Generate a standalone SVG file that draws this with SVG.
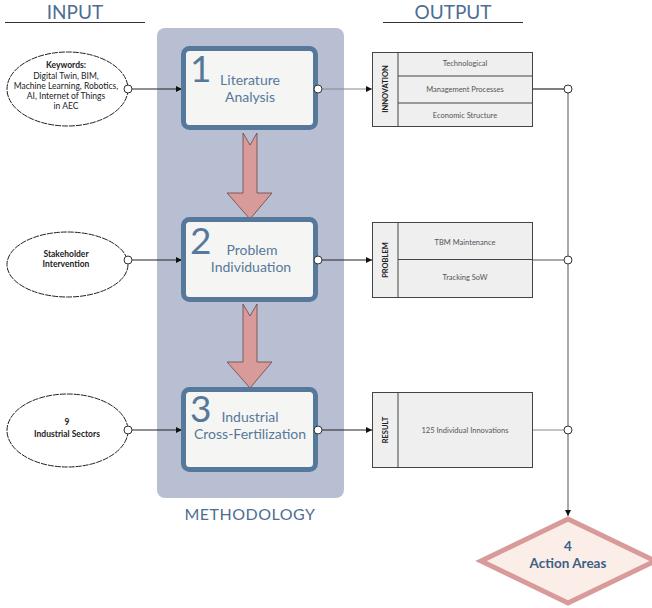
<svg xmlns="http://www.w3.org/2000/svg" width="652" height="608" viewBox="0 0 652 608">
<style>
.title{font-family:Lato,"Open Sans",sans-serif;font-size:19px;fill:#4d6e92;text-anchor:middle}
.step{fill:#f5f5f3;stroke:#56799b;stroke-width:5}
.num{font-family:Lato,"Open Sans",sans-serif;font-size:37px;fill:#56799b}
.stxt{font-family:Lato,"Open Sans",sans-serif;font-size:14px;fill:#56799b;text-anchor:middle}
.ell{fill:#fff;stroke:#222;stroke-width:1;stroke-dasharray:6 1}
.etxt{font-family:Lato,"Open Sans",sans-serif;font-size:8.5px;fill:#222;text-anchor:middle}
.b{font-weight:bold}
.dot{fill:#fff;stroke:#333;stroke-width:1}
.tbl{fill:#efefef;stroke:#444;stroke-width:1}
.ttxt{font-family:Lato,"Open Sans",sans-serif;font-size:7.5px;fill:#555;text-anchor:middle}
.vlab{font-family:Lato,"Open Sans",sans-serif;font-size:7.5px;font-weight:bold;fill:#222;text-anchor:middle}
.conn{stroke:#222;stroke-width:1;fill:none}
.big{fill:#d99a9a;stroke:#6a4444;stroke-width:0.8}
</style>
<defs>
<marker id="ah" viewBox="0 0 10 10" refX="10" refY="5" markerWidth="6" markerHeight="6" orient="auto" markerUnits="userSpaceOnUse"><path d="M0,0L10,5L0,10z" fill="#111"/></marker>
</defs>
<g id="headers">
<text class="title" x="75" y="19">INPUT</text>
<line x1="5" y1="22.5" x2="145" y2="22.5" stroke="#333" stroke-width="1.2"/>
<text class="title" x="453" y="19">OUTPUT</text>
<line x1="383" y1="22.5" x2="523" y2="22.5" stroke="#333" stroke-width="1.2"/>
</g>
<g id="methodology">
<rect x="157" y="28" width="187" height="470" rx="8" fill="#b9bfd3"/>
<text x="250" y="520" style="font-family:Lato,'Open Sans',sans-serif;font-size:16px;fill:#4d6e92;text-anchor:middle;letter-spacing:0.5px">METHODOLOGY</text>
</g>
<g id="connectors">
<line class="conn" x1="132" y1="89" x2="182" y2="89" marker-end="url(#ah)"/>
<line class="conn" x1="132" y1="260" x2="182" y2="260" marker-end="url(#ah)"/>
<line class="conn" x1="132" y1="430" x2="182" y2="430" marker-end="url(#ah)"/>
<line x1="322" y1="89" x2="372" y2="89" stroke="#888" stroke-width="1" marker-end="url(#ah)"/>
<line class="conn" x1="322" y1="260" x2="372" y2="260" marker-end="url(#ah)"/>
<line class="conn" x1="322" y1="430" x2="372" y2="430" marker-end="url(#ah)"/>
<line x1="533" y1="89" x2="564" y2="89" stroke="#555" stroke-width="1.5"/>
<line x1="533" y1="260" x2="564" y2="260" stroke="#555" stroke-width="1"/>
<line x1="533" y1="430" x2="564" y2="430" stroke="#888" stroke-width="1"/>
<line x1="568" y1="93" x2="568" y2="516" stroke="#555" stroke-width="1" marker-end="url(#ah)"/>
<path class="big" d="M243,133 L250,145 L257,133 L257,193 L272,193 L250,219 L227,193 L243,193 Z"/>
<path class="big" d="M243,304 L250,316 L257,304 L257,362 L272,362 L250,388 L227,362 L243,362 Z"/>
</g>
<g id="in1">
<ellipse class="ell" cx="67.5" cy="89" rx="60.5" ry="37"/>
<text class="etxt b" x="66" y="68">Keywords:</text>
<text class="etxt" x="66" y="79">Digital Twin, BIM,</text>
<text class="etxt" x="66" y="89">Machine Learning, Robotics,</text>
<text class="etxt" x="66" y="99">AI, Internet of Things</text>
<text class="etxt" x="66" y="109">in AEC</text>
<circle class="dot" cx="128" cy="89" r="4"/>
</g>
<g id="in2">
<ellipse class="ell" cx="67.5" cy="264.5" rx="60.5" ry="32.5"/>
<text class="etxt b" x="66" y="257">Stakeholder</text>
<text class="etxt b" x="66" y="267">Intervention</text>
<circle class="dot" cx="128" cy="260" r="4"/>
</g>
<g id="in3">
<ellipse class="ell" cx="67.5" cy="430.5" rx="60.5" ry="36.5"/>
<text class="etxt b" x="67" y="425">9</text>
<text class="etxt b" x="67" y="437">Industrial Sectors</text>
<circle class="dot" cx="128" cy="430" r="4"/>
</g>
<g id="step1">
<rect class="step" x="183.5" y="48.5" width="132" height="79" rx="6"/>
<text class="num" x="190" y="82">1</text>
<text class="stxt" x="250" y="85">Literature</text>
<text class="stxt" x="250" y="102">Analysis</text>
<circle class="dot" cx="318" cy="89" r="4"/>
</g>
<g id="step2">
<rect class="step" x="183.5" y="219.5" width="132" height="80" rx="6"/>
<text class="num" x="190" y="254">2</text>
<text class="stxt" x="252" y="255">Problem</text>
<text class="stxt" x="251" y="272">Individuation</text>
<circle class="dot" cx="318" cy="260" r="4"/>
</g>
<g id="step3">
<rect class="step" x="183.5" y="389.5" width="132" height="80" rx="6"/>
<text class="num" x="190" y="422">3</text>
<text class="stxt" x="250" y="422">Industrial</text>
<text class="stxt" x="250" y="439">Cross-Fertilization</text>
<circle class="dot" cx="318" cy="430" r="4"/>
</g>
<g id="out1">
<rect class="tbl" x="372.5" y="52.5" width="160" height="74"/>
<line x1="398" y1="52.5" x2="398" y2="126.5" stroke="#444"/>
<line x1="398" y1="76" x2="532.5" y2="76" stroke="#444"/>
<line x1="398" y1="103" x2="532.5" y2="103" stroke="#444"/>
<text class="vlab" transform="translate(388,89) rotate(-90)">INNOVATION</text>
<text class="ttxt" x="465" y="66">Technological</text>
<text class="ttxt" x="465" y="92">Management Processes</text>
<text class="ttxt" x="465" y="118">Economic Structure</text>
<circle class="dot" cx="568" cy="89" r="4"/>
</g>
<g id="out2">
<rect class="tbl" x="372.5" y="222.5" width="160" height="75"/>
<line x1="398" y1="222.5" x2="398" y2="297.5" stroke="#444"/>
<line x1="398" y1="259.5" x2="532.5" y2="259.5" stroke="#444"/>
<text class="vlab" transform="translate(388,260) rotate(-90)">PROBLEM</text>
<text class="ttxt" x="465" y="245">TBM Maintenance</text>
<text class="ttxt" x="465" y="280">Tracking SoW</text>
<circle class="dot" cx="568" cy="260" r="4"/>
</g>
<g id="out3">
<rect class="tbl" x="372.5" y="392.5" width="160" height="75"/>
<line x1="398" y1="392.5" x2="398" y2="467.5" stroke="#444"/>
<text class="vlab" transform="translate(388,430) rotate(-90)">RESULT</text>
<text class="ttxt" x="465" y="433">125 Individual Innovations</text>
<circle class="dot" cx="568" cy="430" r="4"/>
</g>
<g id="result">
<path d="M568,519 L655,561 L568,603 L481,561 Z" fill="#fbeee9" stroke="#d99a9a" stroke-width="5"/>
<text x="568" y="551" style="font-family:Lato,'Open Sans',sans-serif;font-size:13.5px;font-weight:bold;fill:#3d5f85;text-anchor:middle">4</text>
<text x="568" y="568" style="font-family:Lato,'Open Sans',sans-serif;font-size:13.5px;font-weight:bold;fill:#3d5f85;text-anchor:middle">Action Areas</text>
</g>
</svg>
